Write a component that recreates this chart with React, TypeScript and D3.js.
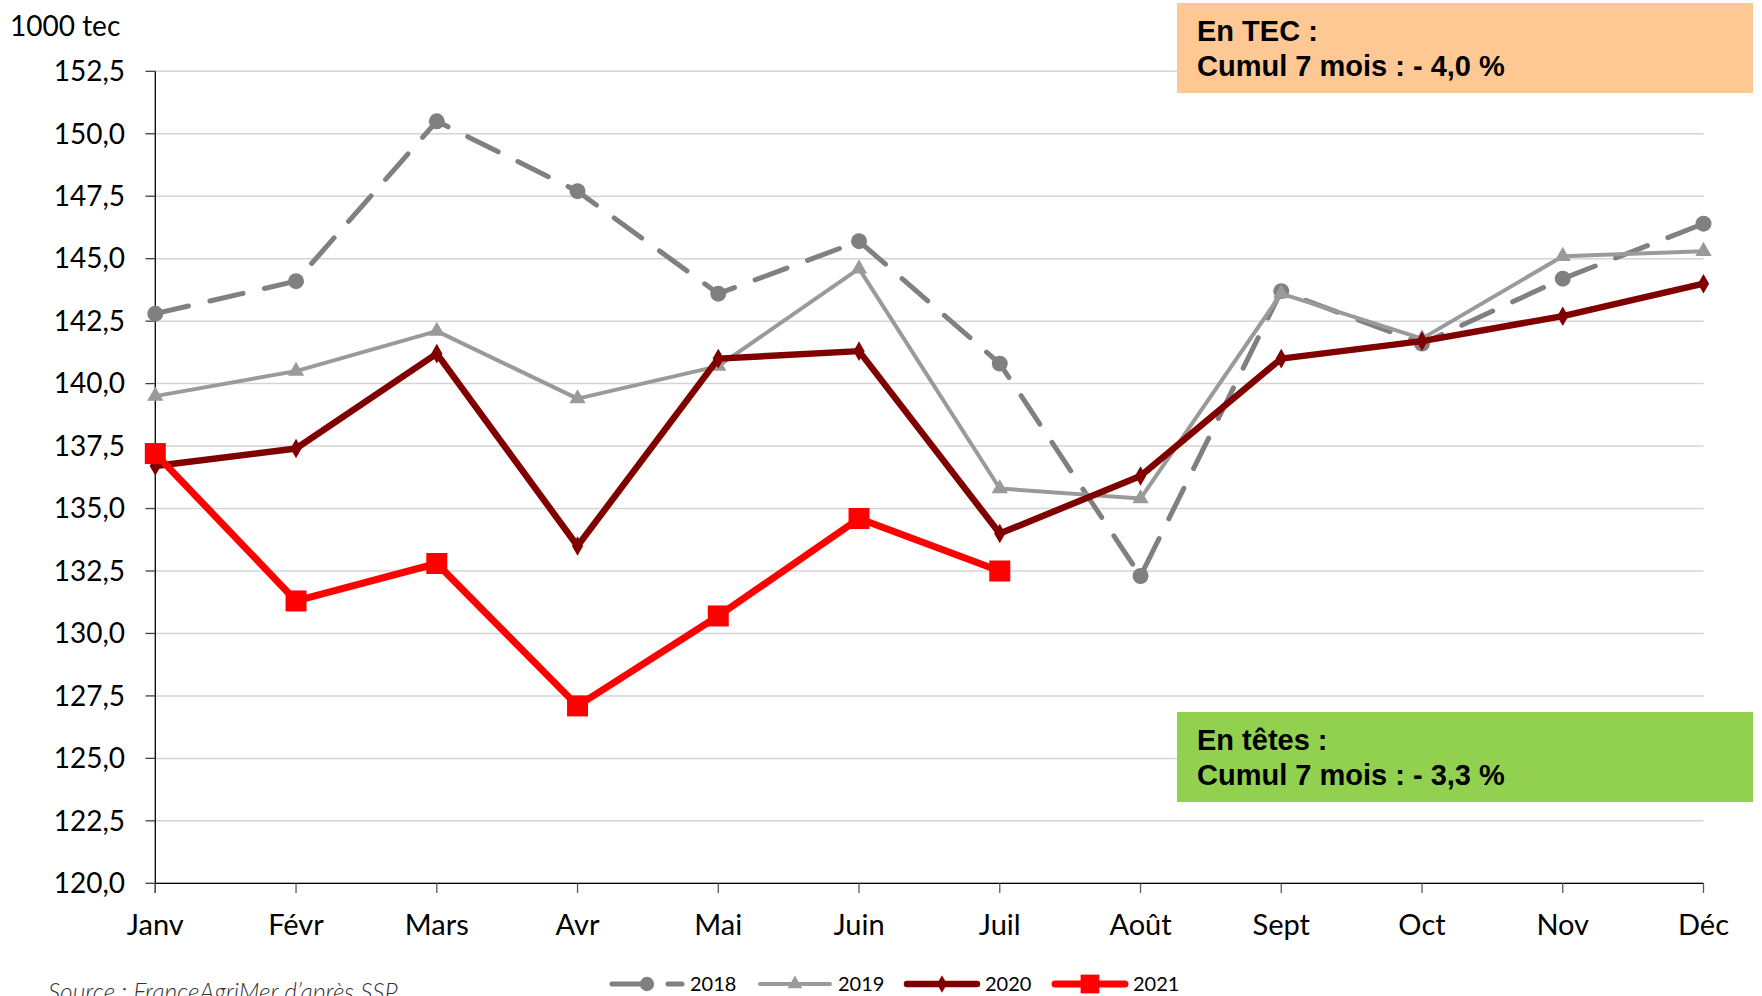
import React from 'react';
import * as d3 from 'd3';

// months on the x axis
const months = ['Janv', 'Févr', 'Mars', 'Avr', 'Mai', 'Juin', 'Juil', 'Août', 'Sept', 'Oct', 'Nov', 'Déc'];
const yTicks = [120, 122.5, 125, 127.5, 130, 132.5, 135, 137.5, 140, 142.5, 145, 147.5, 150, 152.5];

// monthly values, 1000 tec
const v2018 = [142.8, 144.1, 150.5, 147.7, 143.6, 145.7, 140.8, 132.3, 143.7, 141.6, 144.2, 146.4];
const v2019 = [139.5, 140.5, 142.1, 139.4, 140.7, 144.6, 135.8, 135.4, 143.6, 141.8, 145.1, 145.3];
const v2020 = [136.7, 137.4, 141.2, 133.5, 141.0, 141.3, 134.0, 136.3, 141.0, 141.7, 142.7, 144.0];
const v2021 = [137.2, 131.3, 132.8, 127.1, 130.7, 134.6, 132.5];

const W = 1762, H = 996;
const FONT = 'Lato, Carlito, "Noto Sans", sans-serif';
const BOLD = '"Liberation Sans", Arial, sans-serif';

const series = [
  { name: '2018', values: v2018, color: '#808080', width: 5, dash: '34 22', marker: 'circle' },
  { name: '2019', values: v2019, color: '#9a9a9a', width: 4, dash: null, marker: 'triangle' },
  { name: '2020', values: v2020, color: '#800000', width: 6.5, dash: null, marker: 'diamond' },
  { name: '2021', values: v2021, color: '#ff0000', width: 7, dash: null, marker: 'square' },
];

const x = d3.scalePoint<string>().domain(months).range([155.3, 1703.5]);
const y = d3.scaleLinear().domain([120, 152.5]).range([883.3, 71.3]);

const markerPath = (kind: string, small = false) => {
  const k = small ? 0.8 : 1;
  if (kind === 'circle') return d3.symbol(d3.symbolCircle, 200 * k)()!;
  if (kind === 'triangle') return d3.symbol(d3.symbolTriangle, 115 * k)()!;
  if (kind === 'diamond') return d3.symbol(d3.symbolDiamond, 110 * k)()!;
  return d3.symbol(d3.symbolSquare, 441 * k)()!;
};

export default function App() {
  const line = d3.line<number>()
    .x((_, i) => x(months[i])!)
    .y(d => y(d));

  const legendX = [612, 760, 907, 1055];
  const legendY = 984;

  return (
    <svg width={W} height={H} style={{ position: 'fixed', left: 0, top: 0, display: 'block', background: '#fff' }}>
      {/* gridlines */}
      {yTicks.map(t => (
        <line key={'g' + t} x1={155.3} x2={1703.5} y1={y(t)} y2={y(t)} stroke="#d4d4d4" strokeWidth={1.5} />
      ))}
      {/* y axis */}
      <line x1={155.3} x2={155.3} y1={y(152.5)} y2={893} stroke="#000" strokeWidth={1.3} />
      {yTicks.map(t => (
        <g key={'t' + t}>
          <line x1={145.5} x2={155.3} y1={y(t)} y2={y(t)} stroke="#404040" strokeWidth={1.3} />
          <text x={125} y={y(t)} dy="0.35em" textAnchor="end" fontFamily={FONT} fontSize={28} fill="#000">
            {t.toFixed(1).replace('.', ',')}
          </text>
        </g>
      ))}
      {/* x axis */}
      <line x1={155.3} x2={1703.5} y1={883.3} y2={883.3} stroke="#000" strokeWidth={1.3} />
      {months.map(m => (
        <g key={m}>
          <line x1={x(m)} x2={x(m)} y1={883.3} y2={893} stroke="#595959" strokeWidth={1.3} />
          <text x={x(m)} y={935} textAnchor="middle" fontFamily={FONT} fontSize={29} fill="#000">{m}</text>
        </g>
      ))}
      <text x={10} y={36} fontFamily={FONT} fontSize={28} fill="#000">1000 tec</text>

      {/* series */}
      {series.map(s => (
        <g key={s.name}>
          <path d={line(s.values)!} fill="none" stroke={s.color} strokeWidth={s.width}
            strokeDasharray={s.dash || undefined} strokeLinecap={s.dash ? 'round' : 'butt'} strokeLinejoin="round" />
          {s.values.map((v, i) => (
            <path key={i} d={markerPath(s.marker)} transform={`translate(${x(months[i])},${y(v)})`} fill={s.color} />
          ))}
        </g>
      ))}

      {/* annotation boxes */}
      <rect x={1177} y={3} width={576} height={90} fill="#fdc893" />
      <text x={1197} y={41} fontFamily={BOLD} fontWeight="bold" fontSize={29} fill="#000">En TEC :</text>
      <text x={1197} y={76} fontFamily={BOLD} fontWeight="bold" fontSize={29} fill="#000">Cumul 7 mois : - 4,0 %</text>

      <rect x={1177} y={712} width={576} height={90} fill="#92d050" />
      <text x={1197} y={750} fontFamily={BOLD} fontWeight="bold" fontSize={29} fill="#000">En têtes :</text>
      <text x={1197} y={785} fontFamily={BOLD} fontWeight="bold" fontSize={29} fill="#000">Cumul 7 mois : - 3,3 %</text>

      {/* legend */}
      {series.map((s, i) => (
        <g key={'l' + s.name}>
          <line x1={legendX[i]} x2={legendX[i] + 70} y1={legendY} y2={legendY} stroke={s.color} strokeWidth={s.width}
            strokeDasharray={s.dash || undefined} strokeLinecap="round" />
          <path d={markerPath(s.marker, true)} transform={`translate(${legendX[i] + 35},${legendY})`} fill={s.color} />
          <text x={legendX[i] + 78} y={legendY} dy="0.35em" fontFamily={FONT} fontSize={20} fill="#000">{s.name}</text>
        </g>
      ))}

      {/* source (cut by the bottom edge, as in the original) */}
      <text x={48} y={1001} fontFamily={FONT} fontStyle="italic" fontWeight={300} fontSize={24.5} fill="#333">
        Source : FranceAgriMer d’après SSP
      </text>
    </svg>
  );
}
